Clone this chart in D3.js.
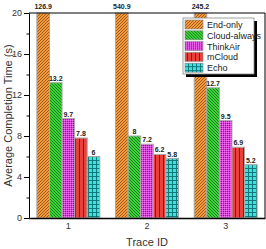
<!DOCTYPE html>
<html>
<head>
<meta charset="utf-8">
<script src="https://cdnjs.cloudflare.com/ajax/libs/d3/7.8.5/d3.min.js"></script>
<style>
  body { margin: 0; background: #fff; }
  text { font-family: "Liberation Sans", Arial, sans-serif; }
</style>
</head>
<body>
<div id="chart"></div>
<script>
// trace ids on the x axis, one series per scheme
var traces = ["1", "2", "3"];
var schemes = ["End-only", "Cloud-always", "ThinkAir", "mCloud", "Echo"];
var endOnly = [126.9, 540.9, 245.2];
var cloudAlways = [13.2, 8, 12.7];
var thinkAir = [9.7, 7.2, 9.5];
var mCloud = [7.8, 6.2, 6.9];
var echo = [6, 5.8, 5.2];
var yTicks = [0, 4, 8, 12, 16, 20];

var seriesValues = [endOnly, cloudAlways, thinkAir, mCloud, echo];

const W = 266, H = 249;
const margin = {top: 13, right: 1, bottom: 31, left: 29};
var width = W - margin.left - margin.right;
var height = H - margin.top - margin.bottom;

var svg = d3.select("#chart").append("svg")
    .attr("width", W)
    .attr("height", H);

// fill patterns for each scheme
var defs = svg.append("defs");

function addPattern(id, w, h, bg, draw) {
    var p = defs.append("pattern")
        .attr("id", id)
        .attr("patternUnits", "userSpaceOnUse")
        .attr("width", w)
        .attr("height", h);
    p.append("rect").attr("width", w).attr("height", h).attr("fill", bg);
    draw(p);
}

addPattern("p0", 3, 3, "#f29a3c", function(p) {
    p.append("path").attr("d", "M-1,1 l2,-2 M0,3 l3,-3 M2,4 l2,-2")
        .attr("stroke", "#8a4a14").attr("stroke-width", 0.8);
});
addPattern("p1", 3, 3, "#3cd43a", function(p) {
    p.append("path").attr("d", "M-1,2 l2,2 M0,0 l3,3 M2,-1 l2,2")
        .attr("stroke", "#136612").attr("stroke-width", 0.8);
});
addPattern("p2", 2, 2, "#d848d8", function(p) {
    p.append("rect").attr("width", 1).attr("height", 1).attr("fill", "#7a1a86");
    p.append("rect").attr("x", 1).attr("y", 1).attr("width", 1).attr("height", 1).attr("fill", "#f070f0");
});
addPattern("p3", 4, 4, "#e8403a", function(p) {
    p.append("rect").attr("x", 2).attr("width", 1).attr("height", 4).attr("fill", "#8a1a18");
});
addPattern("p4", 4, 4, "#3ee0e0", function(p) {
    p.append("rect").attr("x", 3).attr("width", 1).attr("height", 4).attr("fill", "#137878");
    p.append("rect").attr("y", 3).attr("width", 4).attr("height", 1).attr("fill", "#137878");
});

var g = svg.append("g")
    .attr("transform", "translate(" + margin.left + "," + margin.top + ")");

var x0 = d3.scaleBand()
    .domain(traces)
    .range([0, width])
    .paddingInner(0.2)
    .paddingOuter(0.1);

var x1 = d3.scaleBand()
    .domain(schemes)
    .range([0, x0.bandwidth()]);

var y = d3.scaleLinear()
    .domain([0, 20])
    .range([height, 0]);

// bars, clipped at the top of the axis
var rows = [];
traces.forEach(function(t, i) {
    schemes.forEach(function(s, j) {
        rows.push({trace: t, scheme: s, idx: j, value: seriesValues[j][i]});
    });
});

var bars = g.selectAll(".bar")
    .data(rows)
    .enter()
    .append("rect")
    .attr("class", "bar")
    .attr("x", function(d) { return x0(d.trace) + x1(d.scheme); })
    .attr("y", function(d) { return y(Math.min(d.value, 20)); })
    .attr("width", x1.bandwidth())
    .attr("height", function(d) { return height - y(Math.min(d.value, 20)); })
    .attr("fill", function(d) { return "url(#p" + d.idx + ")"; })
    .attr("stroke", "#a8a8a8")
    .attr("stroke-width", 1);

// value labels
g.selectAll(".lbl")
    .data(rows)
    .enter()
    .append("text")
    .attr("class", "lbl")
    .attr("x", function(d) { return x0(d.trace) + x1(d.scheme) + x1.bandwidth() / 2; })
    .attr("y", function(d) { return d.value > 20 ? -4 : y(d.value) - 2; })
    .attr("text-anchor", "middle")
    .style("font-size", "7px")
    .style("font-weight", "bold")
    .style("fill", "#222")
    .text(function(d) { return d.value; });

// y axis with major and minor ticks
var yAxis = g.append("g")
    .call(d3.axisLeft(y).tickValues(yTicks).tickSize(5).tickPadding(2));
yAxis.select(".domain").attr("stroke", "#000");
yAxis.selectAll("text").style("font-size", "9px").style("fill", "#333");
g.append("g")
    .call(d3.axisLeft(y).tickValues(d3.range(2, 20, 4)).tickSize(2.5).tickFormat(""))
    .select(".domain").remove();

// x axis
var xAxis = g.append("g")
    .attr("transform", "translate(0," + height + ")")
    .call(d3.axisBottom(x0).tickSize(0).tickPadding(5));
xAxis.select(".domain").attr("stroke", "#000").attr("stroke-width", 1.5);
xAxis.selectAll("text").style("font-size", "9px").style("fill", "#333");

// frame top and right
g.append("path")
    .attr("d", "M0,0H" + width + "V" + height)
    .attr("fill", "none")
    .attr("stroke", "#000");

// axis titles
svg.append("text")
    .attr("transform", "translate(12," + (margin.top + height / 2) + ") rotate(-90)")
    .attr("text-anchor", "middle")
    .style("font-size", "11px")
    .style("fill", "#333")
    .text("Average Completion Time (s)");

svg.append("text")
    .attr("x", margin.left + width / 2)
    .attr("y", 246)
    .attr("text-anchor", "middle")
    .style("font-size", "11px")
    .style("fill", "#333")
    .text("Trace ID");

// legend with drop shadow
var lx = 183, ly = 18, lw = 71, lh = 56;
svg.append("rect")
    .attr("x", lx + 3).attr("y", ly + 3)
    .attr("width", lw).attr("height", lh)
    .attr("fill", "#000");
svg.append("rect")
    .attr("x", lx).attr("y", ly)
    .attr("width", lw).attr("height", lh)
    .attr("fill", "#fff")
    .attr("stroke", "#888")
    .attr("stroke-width", 0.8);

var leg = svg.selectAll(".leg")
    .data(schemes)
    .enter()
    .append("g")
    .attr("class", "leg")
    .attr("transform", function(d, i) { return "translate(" + (lx + 2) + "," + (ly + 2 + i * 10.8) + ")"; });

leg.append("rect")
    .attr("width", 18)
    .attr("height", 9)
    .attr("fill", function(d, i) { return "url(#p" + i + ")"; })
    .attr("stroke", "#888")
    .attr("stroke-width", 0.6);

leg.append("text")
    .attr("x", 22)
    .attr("y", 8)
    .style("font-size", "9px")
    .style("fill", "#222")
    .text(function(d) { return d; });
</script>
</body>
</html>
